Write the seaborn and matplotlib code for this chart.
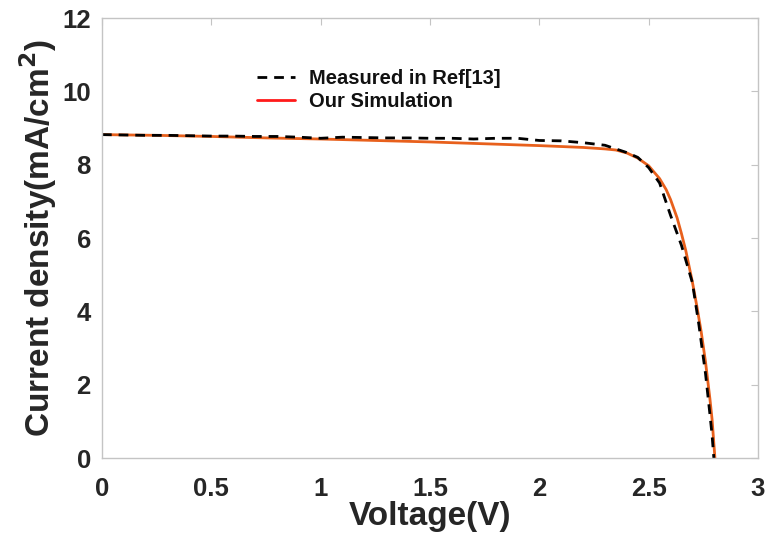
import matplotlib
matplotlib.use("Agg")
import matplotlib.pyplot as plt
from matplotlib.lines import Line2D
import seaborn as sns
import pandas as pd

meas_v = [0, 0.1, 0.2, 0.3, 0.4, 0.5, 0.6, 0.7, 0.8, 0.9, 1.0, 1.1, 1.2, 1.3, 1.4,
          1.5, 1.6, 1.7, 1.8, 1.9, 2.0, 2.1, 2.2, 2.3, 2.35, 2.4, 2.45, 2.5, 2.55,
          2.6, 2.65, 2.7, 2.73, 2.76, 2.78, 2.79, 2.798]
meas_j = [8.82, 8.81, 8.80, 8.80, 8.79, 8.78, 8.78, 8.77, 8.77, 8.75, 8.72, 8.75,
          8.74, 8.73, 8.73, 8.72, 8.72, 8.70, 8.72, 8.72, 8.66, 8.65, 8.60, 8.53,
          8.43, 8.33, 8.20, 7.92, 7.50, 6.62, 5.80, 4.78, 3.62, 2.30, 1.20, 0.62, 0.0]

sim_v = [0, 0.25, 0.5, 0.75, 1.0, 1.25, 1.5, 1.75, 2.0, 2.2, 2.3, 2.35, 2.4, 2.45,
         2.5, 2.55, 2.58, 2.6, 2.63, 2.65, 2.67, 2.7, 2.72, 2.74, 2.76, 2.78, 2.79,
         2.803]
sim_j = [8.82, 8.80, 8.77, 8.73, 8.70, 8.66, 8.62, 8.57, 8.52, 8.47, 8.43, 8.40,
         8.32, 8.18, 7.97, 7.62, 7.32, 7.05, 6.55, 6.12, 5.65, 4.80, 4.15, 3.45,
         2.62, 1.62, 1.05, 0.0]

labels = ["Measured in Ref[13]", "Our Simulation"]
x_ticks = [0, 0.5, 1, 1.5, 2, 2.5, 3]
x_tick_labels = ["0", "0.5", "1", "1.5", "2", "2.5", "3"]
y_ticks = [0, 2, 4, 6, 8, 10, 12]

sns.set_style("white")
plt.rcParams['font.family'] = ['Liberation Sans', 'DejaVu Sans']
plt.rcParams['font.weight'] = 'bold'

df_meas = pd.DataFrame({"V": meas_v, "J": meas_j})
df_sim = pd.DataFrame({"V": sim_v, "J": sim_j})

fig = plt.figure(figsize=(7.69, 5.33), dpi=100)
ax = fig.add_axes([0.1326, 0.1407, 0.8531, 0.8255])

sns.lineplot(data=df_sim, x="V", y="J", ax=ax, color="#E8601C", linewidth=2.0,
             sort=False, estimator=None)
sns.lineplot(data=df_meas, x="V", y="J", ax=ax, color="black", linewidth=2.0,
             linestyle=(0, (3.5, 2.5)), sort=False, estimator=None)

ax.set_xlim(0, 3)
ax.set_ylim(0, 12)
ax.set_xticks(x_ticks)
ax.set_xticklabels(x_tick_labels)
ax.set_yticks(y_ticks)

for s in ax.spines.values():
    s.set_visible(True)
    s.set_color("#c4c4c4")
    s.set_linewidth(1.0)

ax.tick_params(axis="both", direction="in", length=5, width=0.8, color="#c4c4c4",
               top=True, right=True, labelsize=18.5, labelcolor="#262626")
ax.tick_params(axis="x", pad=14)
ax.tick_params(axis="y", pad=8)
for lab in ax.get_xticklabels() + ax.get_yticklabels():
    lab.set_fontweight("bold")

ax.set_xlabel("Voltage(V)", fontsize=24, fontweight="bold", color="#262626", labelpad=0)
ax.set_ylabel("Current density(mA/cm$\\mathbf{^2}$)", fontsize=24, fontweight="bold",
              color="#262626", labelpad=2)

handles = [Line2D([], [], color="black", linewidth=2.0, linestyle=(0, (3.5, 2.5))),
           Line2D([], [], color="#ff1a1a", linewidth=2.0)]
leg = ax.legend(handles, labels, loc="upper left", bbox_to_anchor=(0.236, 0.884),
                frameon=False, borderpad=0, borderaxespad=0, handlelength=1.9,
                handletextpad=0.7, labelspacing=0.2,
                prop={"size": 14.5, "weight": "bold"})
for t in leg.get_texts():
    t.set_color("#111111")

fig.savefig("out.png", dpi=100)
